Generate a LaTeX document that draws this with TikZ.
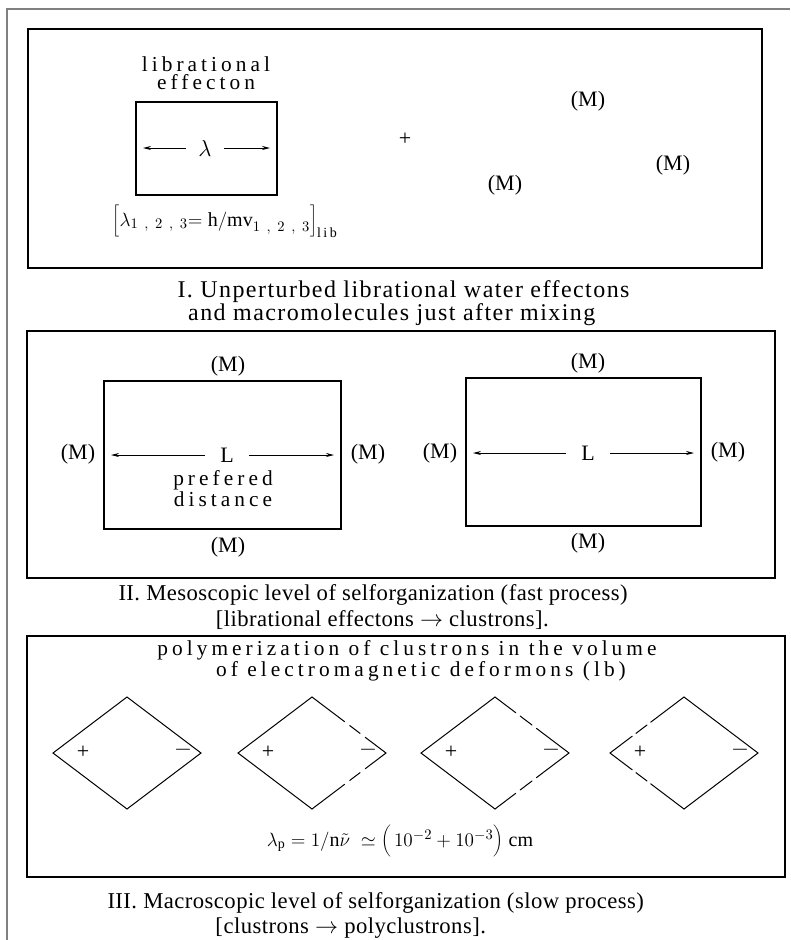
\documentclass[tikz,border=0pt]{standalone}
\usepackage{fontspec}
\setmainfont{Liberation Serif}
\newfontfamily\spacedfont[LetterSpace=19]{Liberation Serif}
\newfontfamily\capfont[LetterSpace=6]{Liberation Serif}
\newfontfamily\capfontB[LetterSpace=2]{Liberation Serif}
\usetikzlibrary{arrows.meta,calc}
\tikzset{every picture/.style={line width=0.75pt}}

\begin{document}
\begin{tikzpicture}[x=0.75pt,y=-0.75pt,
    panel/.style={line width=0.9pt},
    cell/.style={line width=0.9pt},
    lbl/.style={inner sep=0pt,font=\fontsize{16.5}{18}\selectfont},
    spaced/.style={inner sep=0pt,anchor=base,align=center,font=\fontsize{16}{13.5}\spacedfont},
    capI/.style={inner sep=0pt,anchor=base west,align=left,font=\fontsize{18}{17.25}\capfont},
    capII/.style={inner sep=0pt,anchor=base west,align=left,font=\fontsize{17}{19}\capfontB},
    len/.style={line width=0.6pt,-{Stealth[length=6pt,width=3pt]}},
    rim/.style={line cap=round}]
    \useasboundingbox (0,0) rectangle (790,940);
    % page frame
    \draw[gray,line width=1.5pt] (790,9) -- (7,9) -- (7,940);

    % I: effecton and macromolecules
    \draw[panel] (28,29) rectangle (762,268);
    \draw[cell] (136,102) rectangle (277,195);
    \node[spaced] (libI) at (206,89) {librational\\effecton};
    \node[lbl,inner xsep=9pt,font=\fontsize{18}{20}\selectfont] (lam) at (205,148) {$\lambda$};
    \coordinate (lamL) at (143,148);
    \coordinate (lamR) at (270,148);
    \draw[len] (lam) -- (lamL);
    \draw[len] (lam) -- (lamR);
    \node[inner sep=0pt,anchor=base west,font=\fontsize{15}{17}\selectfont] (wave) at (112,226)
        {$\bigg[\lambda_{1\hspace{5pt},\hspace{5pt}2\hspace{5pt},\hspace{5pt}3}\mathrm{=h/mv}_{1\hspace{5pt},\hspace{5pt}2\hspace{5pt},\hspace{5pt}3}\bigg]_{\mathrm{l\,i\,b}}$};
    \node[lbl] (plusI) at (405,139) {+};
    \node[lbl] (mA) at (588,101) {(M)};
    \node[lbl] (mB) at (673,165) {(M)};
    \node[lbl] (mC) at (505,185) {(M)};
    \node[capI] (capI) at (177,320)
        {I. Unperturbed librational water effectons\\\hspace*{8pt}and macromolecules just after mixing};

    % II: clustrons
    \draw[panel] (27,331) rectangle (775,578);
    \draw[cell] (104,381) rectangle (341,529);
    \draw[cell] (466,378) rectangle (701,526);
    \node[lbl] (mLt) at (228,366) {(M)};
    \node[lbl] (mLb) at (228,547) {(M)};
    \node[lbl] (mLl) at (78,454) {(M)};
    \node[lbl] (mLr) at (368,454) {(M)};
    \node[lbl] (mRt) at (588,363) {(M)};
    \node[lbl] (mRb) at (588,543) {(M)};
    \node[lbl] (mRl) at (440,453) {(M)};
    \node[lbl] (mRr) at (728,452) {(M)};
    \node[lbl,inner xsep=11pt] (distL) at (227,455) {L};
    \coordinate (distLa) at (111,455);
    \coordinate (distLb) at (334,455);
    \draw[len] (distL) -- (distLa);
    \draw[len] (distL) -- (distLb);
    \node[lbl,inner xsep=11pt] (distR) at (588,453) {L};
    \coordinate (distRa) at (473,453);
    \coordinate (distRb) at (694,453);
    \draw[len] (distR) -- (distRa);
    \draw[len] (distR) -- (distRb);
    \node[spaced,font=\fontsize{16}{14.25}\spacedfont] (pref) at (223,506) {prefered\\distance};
    \node[capII] (capII) at (118,626)
        {II. Mesoscopic level of selforganization (fast process)\\\hspace*{73pt}[librational effectons $\rightarrow$ clustrons].};

    % III: polyclustrons
    \draw[panel] (27,636) rectangle (785,877);
    \node[spaced,font=\fontsize{16}{14}\spacedfont] (poly) at (407,676)
        {polymerization of clustrons in the volume\\\hspace*{21pt}of electromagnetic deformons (lb)};
    \foreach \n/\cx in {1/127,2/312,3/495,4/684} {
        \coordinate (d\n-t) at (\cx,697);
        \coordinate (d\n-r) at (\cx+74,753);
        \coordinate (d\n-b) at (\cx,809);
        \coordinate (d\n-l) at (\cx-74,753);
        \node[lbl] (plus\n) at (\cx-44,752) {+};
        \node[lbl] (minus\n) at (\cx+56,750) {$-$};
    }
    \draw[rim] (d1-t) -- (d1-r) -- (d1-b) -- (d1-l) -- cycle;
    \draw[rim] (d2-b) -- (d2-l) -- (d2-t);
    \foreach \a/\b in {0/0.44,0.51/0.65,0.72/1} {
        \draw[rim] ($(d2-t)!\a!(d2-r)$) -- ($(d2-t)!\b!(d2-r)$);
        \draw[rim] ($(d2-b)!\a!(d2-r)$) -- ($(d2-b)!\b!(d2-r)$);
    }
    \draw[rim] (d3-b) -- (d3-l) -- (d3-t);
    \foreach \a/\b in {0/0.28,0.34/0.5,0.56/1} {
        \draw[rim] ($(d3-t)!\a!(d3-r)$) -- ($(d3-t)!\b!(d3-r)$);
        \draw[rim] ($(d3-b)!\a!(d3-r)$) -- ($(d3-b)!\b!(d3-r)$);
    }
    \draw[rim] (d4-t) -- (d4-r) -- (d4-b);
    \foreach \a/\b in {0/0.45,0.5/0.65,0.7/1} {
        \draw[rim] ($(d4-t)!\a!(d4-l)$) -- ($(d4-t)!\b!(d4-l)$);
        \draw[rim] ($(d4-b)!\a!(d4-l)$) -- ($(d4-b)!\b!(d4-l)$);
    }
    \node[inner sep=0pt,anchor=base,font=\fontsize{15}{17}\selectfont] (lamp) at (400,846)
        {$\lambda_{\mathrm{p}}=1/\mathrm{n}\tilde{\nu}\;\simeq\bigg(\,10^{-2}+10^{-3}\bigg)\;\mathrm{cm}$};
    \node[capII,font=\fontsize{17}{18.75}\capfontB] (capIII) at (107,933)
        {III. Macroscopic level of selforganization (slow process)\\\hspace*{81pt}[clustrons $\rightarrow$ polyclustrons].};
\end{tikzpicture}
\end{document}
